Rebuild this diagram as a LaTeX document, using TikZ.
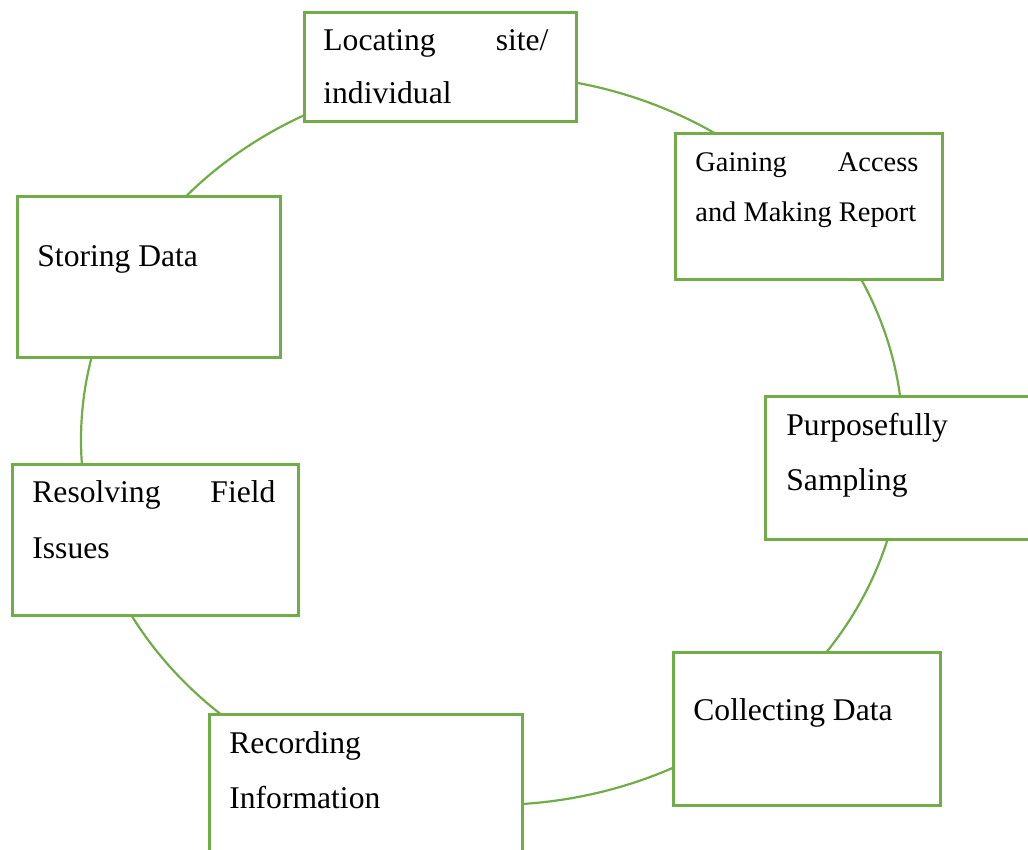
\documentclass[tikz,border=0pt]{standalone}
\usepackage{fontspec}
\setmainfont{Liberation Serif}
\usetikzlibrary{shapes.geometric}
\definecolor{officegreen}{HTML}{70AD47}
\tikzset{
  box/.style={draw=officegreen, line width=1.3pt, fill=white, rectangle, anchor=north west, inner sep=0pt},
  cyc/.style={draw=officegreen, line width=1.1pt, ellipse, inner sep=0pt},
  lbl/.style={inner sep=0pt, anchor=base west, font=\fontsize{15.8pt}{18pt}\selectfont},
  lblsmall/.style={inner sep=0pt, anchor=base west, font=\fontsize{14.2pt}{17pt}\selectfont}
}
\begin{document}
\begin{tikzpicture}[x=0.5pt,y=-0.5pt]
\useasboundingbox (0,0) rectangle (1028,850);
\clip (0,0) rectangle (1028,850);
\fill[white] (0,0) rectangle (1028,850);
\node[cyc, minimum width=411pt, minimum height=365pt] (cycle) at (492,440) {};
\node[box, minimum width=136pt, minimum height=54.5pt] (locate) at (303,11) {};
\node[box, minimum width=133.5pt, minimum height=73pt] (gain) at (674,132) {};
\node[box, minimum width=140pt, minimum height=71.5pt] (purp) at (764,395) {};
\node[box, minimum width=133.5pt, minimum height=76.5pt] (collect) at (672,651) {};
\node[box, minimum width=156.5pt, minimum height=75pt] (record) at (208,713) {};
\node[box, minimum width=143pt, minimum height=75.5pt] (resolve) at (11,463) {};
\node[box, minimum width=131.5pt, minimum height=80.5pt] (store) at (16,195) {};
\node[lbl] (t1a) at (323,51) {\makebox[112.5pt][l]{Locating\hfill site/}};
\node[lbl] (t1b) at (323,104) {individual};
\node[lblsmall] (t2a) at (695,172) {\makebox[111.5pt][l]{Gaining\hfill Access}};
\node[lblsmall] (t2b) at (695,222) {and Making Report};
\node[lbl] (t3a) at (786,435) {Purposefully};
\node[lbl] (t3b) at (786,490) {Sampling};
\node[lbl] (t4) at (693,720) {Collecting Data};
\node[lbl] (t5a) at (229,753) {Recording};
\node[lbl] (t5b) at (229,808) {Information};
\node[lbl] (t6a) at (32,502) {\makebox[121.5pt][l]{Resolving\hfill Field}};
\node[lbl] (t6b) at (32,558) {Issues};
\node[lbl] (t7) at (37,267) {Storing Data};
\end{tikzpicture}
\end{document}
